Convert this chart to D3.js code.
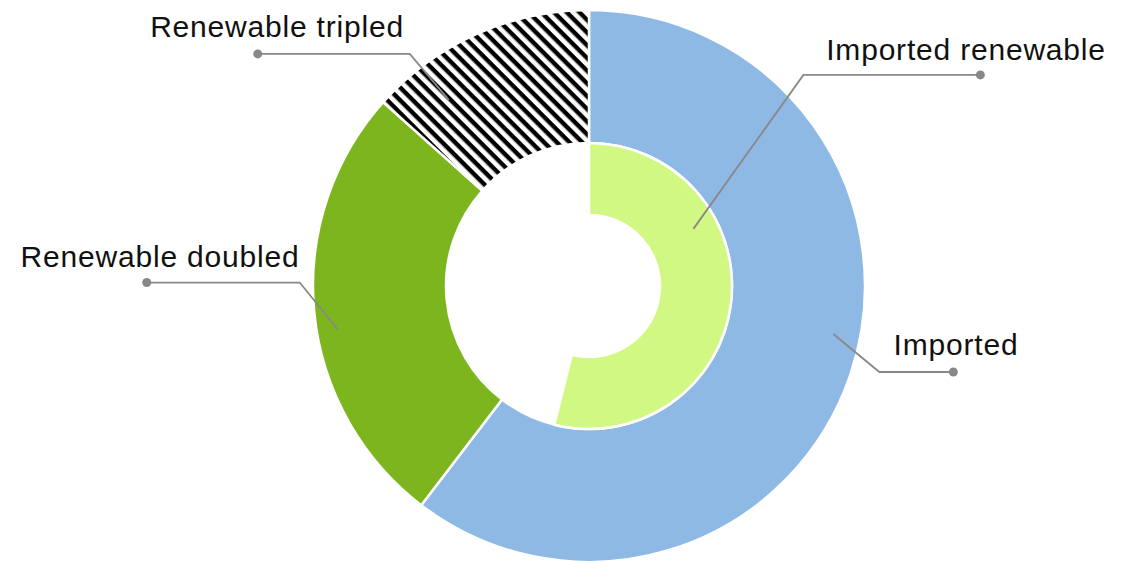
<!DOCTYPE html>
<html>
<head>
<meta charset="utf-8">
<script src="https://cdn.jsdelivr.net/npm/d3@7"></script>
<style>
  html, body { margin: 0; padding: 0; background: #fff; }
  svg { display: block; }
</style>
</head>
<body>
<svg id="chart" width="1126" height="561"></svg>
<script>
// outer ring: share of total (%)
const outerLabels = ['Imported', 'Renewable doubled', 'Renewable tripled'];
const outerValues = [60.4, 26.2, 13.4];
// inner ring: share of the same total (%), rest left empty
const innerLabels = ['Imported renewable'];
const innerValues = [53.9];

const style = {
  width: 1126,
  height: 561,
  cx: 589,
  cy: 286,
  outer: [143, 276],
  inner: [71, 143],
  colors: { 'Imported': '#8fb9e5', 'Renewable doubled': '#7cb51e', 'Imported renewable': '#d2f884' },
  font: '30px "Helvetica Neue", Helvetica, "Liberation Sans", Arial, sans-serif'
};

// leader layout: where on the arc the line starts (fraction of arc, radius),
// the elbow offset, the horizontal run, and the label centre / baseline
const leaders = {
  'Imported':           { frac: 0.465, r: 249, elbow: [46, 38],    run: 74,   text: [956, 355] },
  'Renewable doubled':  { frac: 0.453, r: 255, elbow: [-38, -47],  run: -153, text: [160, 267] },
  'Renewable tripled':  { frac: 0.233, r: 233, elbow: [-39, -46],  run: -152, text: [277, 37] },
  'Imported renewable': { frac: 0.316, r: 119, elbow: [110, -154], run: 177,  text: [966, 60] }
};

const svg = d3.select('#chart');
const total = d3.sum(outerValues);
const angle = d3.scaleLinear().domain([0, total]).range([0, 2 * Math.PI]);

// stripes for the tripled slice
const defs = svg.append('defs');
defs.append('pattern')
  .attr('id', 'hatch')
  .attr('patternUnits', 'userSpaceOnUse')
  .attr('width', 9)
  .attr('height', 9)
  .attr('patternTransform', 'rotate(45)')
  .call((p) => {
    p.append('rect').attr('width', 9).attr('height', 9).attr('fill', '#fff');
    p.append('rect').attr('width', 9).attr('height', 4.4).attr('fill', '#000');
  });

const g = svg.append('g').attr('transform', `translate(${style.cx},${style.cy})`);

// build slices from cumulative values
const toSlices = (labels, values) => {
  let acc = 0;
  return values.map((v, i) => {
    const s = { label: labels[i], value: v, startAngle: angle(acc), endAngle: angle(acc + v) };
    acc += v;
    return s;
  });
};

const outerSlices = toSlices(outerLabels, outerValues);
const innerSlices = toSlices(innerLabels, innerValues);

const outerArc = d3.arc().innerRadius(style.outer[0]).outerRadius(style.outer[1]);
const innerArc = d3.arc().innerRadius(style.inner[0]).outerRadius(style.inner[1]);

const fillOf = (d) => style.colors[d.label] || 'url(#hatch)';

g.selectAll('path.outer')
  .data(outerSlices)
  .join('path')
  .attr('class', 'outer')
  .attr('d', outerArc)
  .attr('fill', fillOf)
  .attr('stroke', '#fff')
  .attr('stroke-width', 2.5);

g.selectAll('path.inner')
  .data(innerSlices)
  .join('path')
  .attr('class', 'inner')
  .attr('d', innerArc)
  .attr('fill', fillOf)
  .attr('stroke', '#fff')
  .attr('stroke-width', 2.5);

// leader lines + labels
const allSlices = outerSlices.concat(innerSlices);
const ann = svg.append('g');

allSlices.forEach((d) => {
  const l = leaders[d.label];
  const a = d.startAngle + l.frac * (d.endAngle - d.startAngle);
  const x0 = style.cx + l.r * Math.sin(a);
  const y0 = style.cy - l.r * Math.cos(a);
  const x1 = x0 + l.elbow[0];
  const y1 = y0 + l.elbow[1];
  const x2 = x1 + l.run;

  ann.append('polyline')
    .attr('points', `${x0},${y0} ${x1},${y1} ${x2},${y1}`)
    .attr('fill', 'none')
    .attr('stroke', '#888')
    .attr('stroke-width', 1.8);

  ann.append('circle')
    .attr('cx', x2)
    .attr('cy', y1)
    .attr('r', 4.5)
    .attr('fill', '#888');

  ann.append('text')
    .attr('x', l.text[0])
    .attr('y', l.text[1])
    .attr('text-anchor', 'middle')
    .style('font', style.font)
    .style('letter-spacing', '0.8px')
    .attr('fill', '#111')
    .text(d.label);
});
</script>
</body>
</html>
